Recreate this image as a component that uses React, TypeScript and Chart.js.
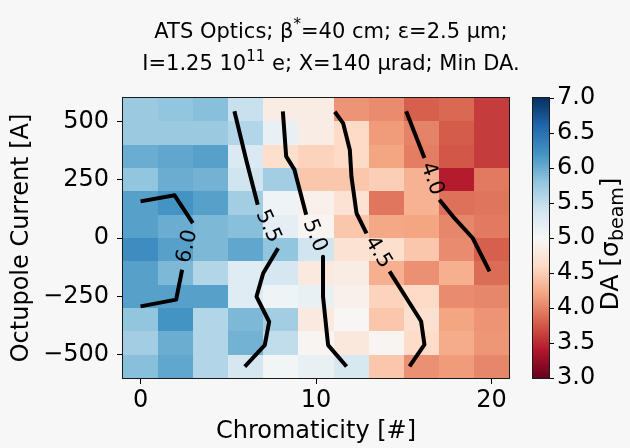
import React, { useEffect, useRef } from 'react';
import { Chart, registerables } from 'chart.js';

Chart.register(...registerables);

const FONT = 'DejaVu Sans';

// ---------------- data ----------------
const chromaticity = [0, 2, 4, 6, 8, 10, 12, 14, 16, 18, 20];
const octupoleCurrent = [550, 450, 350, 250, 150, 50, -50, -150, -250, -350, -450, -550];

const daAt550 = [5.75, 5.8, 5.85, 5.45, 4.85, 4.85, 4.1, 4.05, 3.8, 3.85, 3.6];
const daAt450 = [5.75, 5.75, 5.75, 5.6, 5.15, 4.85, 4.6, 4.15, 4.0, 3.78, 3.6];
const daAt350 = [6.0, 6.05, 6.1, 5.3, 4.65, 4.55, 4.6, 4.2, 3.97, 3.75, 3.6];
const daAt250 = [5.8, 6.0, 5.95, 5.4, 5.7, 4.45, 4.45, 4.5, 4.3, 3.42, 3.95];
const daAt150 = [6.1, 6.2, 6.1, 5.7, 5.1, 4.9, 4.7, 3.93, 4.3, 3.9, 3.92];
const daAt50 = [6.1, 6.0, 5.9, 5.85, 5.2, 4.95, 4.45, 4.22, 4.2, 4.02, 3.95];
const daAtM50 = [6.25, 6.1, 5.9, 6.05, 5.8, 5.4, 4.7, 4.65, 4.45, 4.05, 3.8];
const daAtM150 = [6.1, 5.9, 5.6, 5.25, 5.35, 4.8, 4.85, 4.28, 4.08, 4.28, 3.87];
const daAtM250 = [6.1, 6.1, 6.1, 5.25, 5.1, 5.15, 4.9, 4.55, 4.6, 4.05, 4.02];
const daAtM350 = [5.8, 6.2, 5.6, 5.9, 5.7, 4.8, 4.98, 4.45, 4.68, 4.2, 4.1];
const daAtM450 = [5.7, 6.0, 5.6, 5.95, 5.5, 4.95, 4.78, 4.95, 4.62, 4.25, 4.12];
const daAtM550 = [5.85, 6.05, 5.6, 5.35, 5.05, 5.15, 5.33, 4.45, 4.08, 4.15, 4.02];

const daRows = [
  daAt550, daAt450, daAt350, daAt250, daAt150, daAt50,
  daAtM50, daAtM150, daAtM250, daAtM350, daAtM450, daAtM550,
];

const xTickValues = [0, 10, 20];
const yTickValues = [500, 250, 0, -250, -500];
const colorbarTicks = [3.0, 3.5, 4.0, 4.5, 5.0, 5.5, 6.0, 6.5, 7.0];
const daMin = 3.0;
const daMax = 7.0;

// contour lines (two pieces each, the label sits in the gap)
const contourLevels = ['6.0', '5.5', '5.0', '4.5', '4.0'];
const contour60Upper = [{ x: 0, y: 157 }, { x: 1.94, y: 183 }, { x: 2.98, y: 64 }];
const contour60Lower = [{ x: 2.37, y: -136 }, { x: 2.03, y: -264 }, { x: 0, y: -293 }];
const contour55Upper = [{ x: 5.35, y: 543 }, { x: 6.02, y: 335 }, { x: 6.68, y: 143 }];
const contour55Lower = [
  { x: 7.84, y: -44 }, { x: 6.99, y: -151 }, { x: 6.61, y: -251 },
  { x: 7.33, y: -359 }, { x: 7.08, y: -459 }, { x: 5.94, y: -551 },
];
const contour50Upper = [{ x: 8.11, y: 543 }, { x: 8.3, y: 350 }, { x: 8.77, y: 293 }, { x: 9.44, y: 100 }];
const contour50Lower = [{ x: 10.4, y: -80 }, { x: 10.4, y: -251 }, { x: 10.69, y: -459 }, { x: 11.74, y: -551 }];
const contour45Upper = [
  { x: 11.07, y: 541 }, { x: 11.55, y: 491 }, { x: 11.93, y: 377 },
  { x: 12.02, y: 263 }, { x: 12.31, y: 106 }, { x: 12.88, y: 20 },
];
const contour45Lower = [{ x: 14.19, y: -143 }, { x: 15.99, y: -357 }, { x: 16.18, y: -457 }, { x: 15.33, y: -550 }];
const contour40Upper = [{ x: 15.14, y: 543 }, { x: 16.18, y: 343 }];
const contour40Lower = [{ x: 17.03, y: 164 }, { x: 17.8, y: 93 }, { x: 18.93, y: 0 }, { x: 19.89, y: -143 }];

const contourUppers = [contour60Upper, contour55Upper, contour50Upper, contour45Upper, contour40Upper];
const contourLowers = [contour60Lower, contour55Lower, contour50Lower, contour45Lower, contour40Lower];

const titleLine1 = [{ t: 'ATS Optics; β' }, { t: '*', sup: true }, { t: '=40 cm; ε=2.5 μm;' }];
const titleLine2 = [{ t: 'I=1.25 10' }, { t: '11', sup: true }, { t: ' e; X=140 μrad; Min DA.' }];
const xAxisTitle = 'Chromaticity [#]';
const yAxisTitle = 'Octupole Current [A]';
const cbTitleParts = [{ t: 'DA [σ' }, { t: 'beam', sub: true }, { t: ']' }];

// ---------------- colormap (matplotlib RdBu) ----------------
const rdbuStops = ['#67001f', '#b2182b', '#d6604d', '#f4a582', '#fddbc7', '#f7f7f7', '#d1e5f0', '#92c5de', '#4393c3', '#2166ac', '#053061'];
const rdbuRgb = rdbuStops.map((h) => {
  const n = parseInt(h.slice(1), 16);
  return [(n >> 16) & 255, (n >> 8) & 255, n & 255];
});
function rdbu(t: number) {
  const c = Math.min(1, Math.max(0, t));
  const s = c * (rdbuRgb.length - 1);
  const i = Math.min(rdbuRgb.length - 2, Math.floor(s));
  const f = s - i;
  const a = rdbuRgb[i];
  const b = rdbuRgb[i + 1];
  const m = (k: number) => Math.round(a[k] + (b[k] - a[k]) * f);
  return `rgb(${m(0)},${m(1)},${m(2)})`;
}

const fmt = (v: number) => (v < 0 ? '\u2212' + Math.abs(v) : String(v));

const xHalf = (chromaticity[1] - chromaticity[0]) / 2;
const yHalf = Math.abs(octupoleCurrent[0] - octupoleCurrent[1]) / 2;

// ---------------- plugins ----------------
const heatmapPlugin = {
  id: 'heatmap',
  beforeDatasetsDraw(chart: any) {
    const { ctx, chartArea, scales } = chart;
    const xs = scales.x;
    const ys = scales.y;
    ctx.save();
    ctx.beginPath();
    ctx.rect(chartArea.left, chartArea.top, chartArea.right - chartArea.left, chartArea.bottom - chartArea.top);
    ctx.clip();
    daRows.forEach((row, j) => {
      const yc = octupoleCurrent[j];
      const top = Math.round(ys.getPixelForValue(yc + yHalf));
      const bottom = Math.round(ys.getPixelForValue(yc - yHalf));
      row.forEach((v, i) => {
        const xc = chromaticity[i];
        const left = Math.round(xs.getPixelForValue(xc - xHalf));
        const right = Math.round(xs.getPixelForValue(xc + xHalf));
        ctx.fillStyle = rdbu((v - daMin) / (daMax - daMin));
        ctx.fillRect(left, top, right - left, bottom - top);
      });
    });
    ctx.restore();
  },
};

const contourLabelPlugin = {
  id: 'contourLabels',
  afterDatasetsDraw(chart: any) {
    const { ctx, scales } = chart;
    const xs = scales.x;
    const ys = scales.y;
    ctx.save();
    ctx.fillStyle = '#000';
    ctx.font = `21px "${FONT}"`;
    ctx.textAlign = 'center';
    ctx.textBaseline = 'middle';
    contourLevels.forEach((label, k) => {
      const up = contourUppers[k];
      const lo = contourLowers[k];
      const a = up[up.length - 1];
      const b = lo[0];
      const ax = xs.getPixelForValue(a.x);
      const ay = ys.getPixelForValue(a.y);
      const bx = xs.getPixelForValue(b.x);
      const by = ys.getPixelForValue(b.y);
      let ang = Math.atan2(by - ay, bx - ax);
      if (ang > Math.PI / 2) ang -= Math.PI;
      if (ang < -Math.PI / 2) ang += Math.PI;
      ctx.save();
      ctx.translate((ax + bx) / 2, (ay + by) / 2);
      ctx.rotate(ang);
      ctx.fillText(label, 0, 0);
      ctx.restore();
    });
    ctx.restore();
  },
};

const framePlugin = {
  id: 'frame',
  afterDraw(chart: any) {
    const { ctx, chartArea } = chart;
    ctx.save();
    ctx.strokeStyle = '#1a1a1a';
    ctx.lineWidth = 1;
    ctx.strokeRect(chartArea.left - 0.5, chartArea.top - 0.5, chartArea.right - chartArea.left + 1, chartArea.bottom - chartArea.top + 1);
    ctx.restore();
  },
};

function drawRich(ctx: any, parts: any[], cx: number, y: number, size: number, scaleSmall = 0.7) {
  const small = Math.round(size * scaleSmall);
  const widths = parts.map((p) => {
    ctx.font = `${p.sup || p.sub ? small : size}px "${FONT}"`;
    return ctx.measureText(p.t).width;
  });
  const total = widths.reduce((s, w) => s + w, 0);
  let x = cx - total / 2;
  parts.forEach((p, i) => {
    ctx.font = `${p.sup || p.sub ? small : size}px "${FONT}"`;
    const dy = p.sup ? -size * 0.42 : p.sub ? size * 0.28 : 0;
    ctx.fillText(p.t, x, y + dy);
    x += widths[i];
  });
}

const titlePlugin = {
  id: 'richTitle',
  afterDraw(chart: any) {
    const { ctx, chartArea } = chart;
    const cx = (chartArea.left + chartArea.right) / 2 + 15;
    ctx.save();
    ctx.fillStyle = '#000';
    ctx.textAlign = 'left';
    ctx.textBaseline = 'alphabetic';
    drawRich(ctx, titleLine1, cx, 38, 21);
    drawRich(ctx, titleLine2, cx, 70, 21);
    ctx.restore();
  },
};

const colorbarPlugin = {
  id: 'colorbar',
  beforeDatasetsDraw(chart: any) {
    const { ctx, chartArea, scales } = chart;
    const ys = scales.y;
    const g = ctx.createLinearGradient(0, ys.getPixelForValue(daMin), 0, ys.getPixelForValue(daMax));
    rdbuStops.forEach((c, i) => g.addColorStop(i / (rdbuStops.length - 1), c));
    ctx.save();
    ctx.fillStyle = g;
    ctx.fillRect(chartArea.left, chartArea.top, chartArea.right - chartArea.left, chartArea.bottom - chartArea.top);
    ctx.strokeStyle = '#1a1a1a';
    ctx.lineWidth = 1;
    ctx.strokeRect(chartArea.left - 0.5, chartArea.top - 0.5, chartArea.right - chartArea.left + 1, chartArea.bottom - chartArea.top + 1);
    ctx.restore();
  },
  afterDraw(chart: any) {
    const { ctx, chartArea } = chart;
    ctx.save();
    ctx.fillStyle = '#000';
    ctx.translate(611, (chartArea.top + chartArea.bottom) / 2 + 6);
    ctx.rotate(-Math.PI / 2);
    ctx.textAlign = 'left';
    ctx.textBaseline = 'middle';
    drawRich(ctx, cbTitleParts, 0, 0, 25, 0.75);
    ctx.restore();
  },
};

export default function App() {
  const mainRef = useRef<HTMLCanvasElement | null>(null);
  const cbRef = useRef<HTMLCanvasElement | null>(null);

  useEffect(() => {
    const tickFont = { family: FONT, size: 24 };
    const labelFont = { family: FONT, size: 24 };
    const datasets: any[] = [];
    contourLevels.forEach((lvl, k) => {
      [contourUppers[k], contourLowers[k]].forEach((seg, s) => {
        datasets.push({
          label: `DA ${lvl} ${s === 0 ? 'a' : 'b'}`,
          data: seg,
          showLine: true,
          borderColor: '#000',
          backgroundColor: '#000',
          borderWidth: 4,
          pointRadius: 0,
          borderJoinStyle: 'round',
          borderCapStyle: 'butt',
          tension: 0,
        });
      });
    });

    const main = new Chart(mainRef.current as HTMLCanvasElement, {
      type: 'scatter',
      data: { datasets },
      options: {
        responsive: false,
        animation: false,
        devicePixelRatio: 1,
        events: [],
        layout: { padding: { left: 0, right: 121, top: 98, bottom: 0 } },
        plugins: { legend: { display: false }, tooltip: { enabled: false }, title: { display: false } },
        scales: {
          x: {
            type: 'linear',
            position: 'bottom',
            min: chromaticity[0] - xHalf,
            max: chromaticity[chromaticity.length - 1] + xHalf,
            afterBuildTicks: (s: any) => { s.ticks = xTickValues.map((v) => ({ value: v })); },
            afterFit: (s: any) => { s.height = 70; },
            ticks: { font: tickFont, color: '#000', padding: 2, maxRotation: 0, autoSkip: false, callback: (v: any) => fmt(Number(v)) },
            grid: { drawOnChartArea: false, drawTicks: true, tickLength: 6, color: '#000' },
            border: { display: false },
            title: { display: true, text: xAxisTitle, font: labelFont, color: '#000', padding: { top: 0, bottom: 2 } },
          },
          y: {
            type: 'linear',
            position: 'left',
            min: octupoleCurrent[octupoleCurrent.length - 1] - yHalf,
            max: octupoleCurrent[0] + yHalf,
            afterBuildTicks: (s: any) => { s.ticks = yTickValues.map((v) => ({ value: v })); },
            afterFit: (s: any) => { s.width = 123; },
            ticks: { font: tickFont, color: '#000', padding: 8, autoSkip: false, callback: (v: any) => fmt(Number(v)) },
            grid: { drawOnChartArea: false, drawTicks: true, tickLength: 6, color: '#000' },
            border: { display: false },
            title: { display: true, text: yAxisTitle, font: labelFont, color: '#000', padding: { top: 7, bottom: 0 } },
          },
        },
      } as any,
      plugins: [heatmapPlugin, contourLabelPlugin, framePlugin, titlePlugin],
    });

    const cb = new Chart(cbRef.current as HTMLCanvasElement, {
      type: 'scatter',
      data: { datasets: [] },
      options: {
        responsive: false,
        animation: false,
        devicePixelRatio: 1,
        events: [],
        layout: { padding: { left: 533, right: 0, top: 98, bottom: 70 } },
        plugins: { legend: { display: false }, tooltip: { enabled: false } },
        scales: {
          x: { display: false, min: 0, max: 1 },
          y: {
            type: 'linear',
            position: 'right',
            min: daMin,
            max: daMax,
            afterBuildTicks: (s: any) => { s.ticks = colorbarTicks.map((v) => ({ value: v })); },
            afterFit: (s: any) => { s.width = 81; },
            ticks: { font: tickFont, color: '#000', padding: 3, autoSkip: false, callback: (v: any) => Number(v).toFixed(1) },
            grid: { drawOnChartArea: false, drawTicks: true, tickLength: 5, color: '#000' },
            border: { display: false },
          },
        },
      } as any,
      plugins: [colorbarPlugin],
    });

    return () => {
      main.destroy();
      cb.destroy();
    };
  }, []);

  return (
    <div style={{ position: 'fixed', left: 0, top: 0, width: 630, height: 448, background: '#f7f7f7', overflow: 'hidden' }}>
      <canvas ref={mainRef} width={630} height={448} style={{ position: 'absolute', left: 0, top: 0 }} />
      <canvas ref={cbRef} width={630} height={448} style={{ position: 'absolute', left: 0, top: 0 }} />
    </div>
  );
}
